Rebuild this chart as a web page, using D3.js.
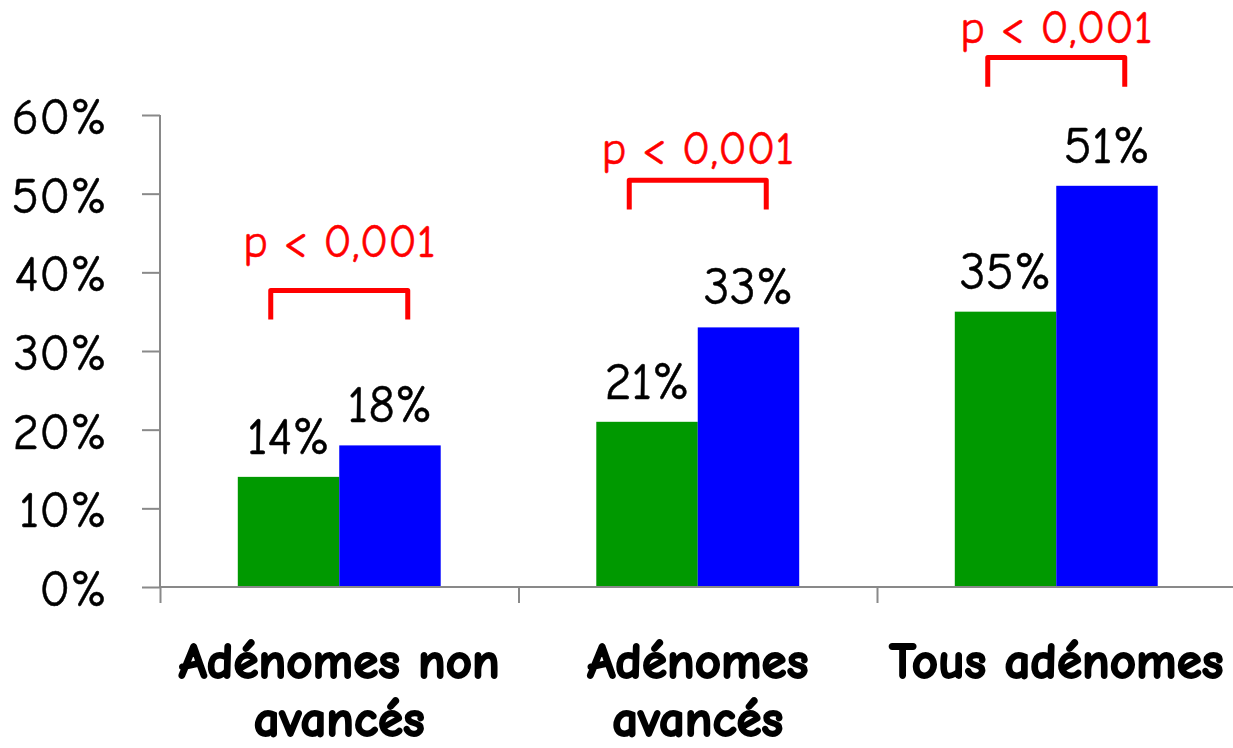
<!DOCTYPE html>
<html>
<head>
<meta charset="utf-8">
<script src="https://cdn.jsdelivr.net/npm/d3@7"></script>
<style>
  html, body { margin: 0; padding: 0; background: #ffffff; }
  svg { display: block; }
  text { font-family: "Comic Sans MS", "Comic Neue", "Open Sans", "Noto Sans", sans-serif; }
</style>
</head>
<body>
<svg id="chart" width="1233" height="748"></svg>
<script>
// Detection rates per group (percent)
const categories = ["Adénomes non avancés", "Adénomes avancés", "Tous adénomes"];
const categoryLines = [["Adénomes non", "avancés"], ["Adénomes", "avancés"], ["Tous adénomes"]];
const seriesNames = ["groupe 1", "groupe 2"];
const greenValues = [14, 21, 35];
const blueValues = [18, 33, 51];
const yTicks = [0, 10, 20, 30, 40, 50, 60];
const pLabels = ["p < 0,001", "p < 0,001", "p < 0,001"];

const svg = d3.select("#chart");

// Plot frame
const plotLeft = 160, plotBottom = 587, plotTop = 115;
const step = 358.5;
const plotRight = plotLeft + step * categories.length;

const y = d3.scaleLinear().domain([0, 60]).range([plotBottom, plotTop]);
const x = d3.scaleBand().domain(categories).range([plotLeft, plotRight])
  .paddingInner(0.434).paddingOuter(0.217);
const xSub = d3.scaleBand().domain(seriesNames).range([0, x.bandwidth()]);
const boundaries = d3.scaleLinear().domain([0, categories.length]).range([plotLeft, plotRight]);

const colors = { "groupe 1": "#009900", "groupe 2": "#0000ff" };
const axisColor = "#898989";

// Bars
const rows = categories.map((c, i) => ({ cat: c, values: [
  { s: seriesNames[0], v: greenValues[i] },
  { s: seriesNames[1], v: blueValues[i] }
]}));

const groups = svg.append("g").selectAll("g").data(rows).join("g")
  .attr("transform", d => `translate(${x(d.cat)},0)`);

groups.selectAll("rect").data(d => d.values).join("rect")
  .attr("x", d => xSub(d.s))
  .attr("width", xSub.bandwidth())
  .attr("y", d => y(d.v))
  .attr("height", d => y(0) - y(d.v))
  .attr("fill", d => colors[d.s]);

// Value labels above bars
groups.selectAll("text.val").data(d => d.values).join("text")
  .attr("class", "val")
  .attr("x", d => xSub(d.s) + xSub.bandwidth() / 2)
  .attr("y", d => y(d.v) - 23)
  .attr("text-anchor", "middle")
  .attr("font-size", 52)
  .attr("fill", "#000")
  .attr("stroke", "#000")
  .attr("stroke-width", 0.5)
  .text(d => d.v + "%");

// Y axis
const yAxis = d3.axisLeft(y).tickValues(yTicks).tickSize(18).tickPadding(35)
  .tickFormat(d => d + "%");
const gy = svg.append("g").attr("transform", `translate(${plotLeft},0)`).call(yAxis);
gy.attr("font-family", null).attr("font-size", null);
gy.select(".domain").attr("d", `M0,${plotTop}V${plotBottom}`).attr("stroke", axisColor).attr("stroke-width", 2);
gy.selectAll(".tick line").attr("stroke", axisColor).attr("stroke-width", 2);
gy.selectAll(".tick text").attr("font-size", 51).attr("fill", "#000").attr("dy", "0.36em")
  .attr("stroke", "#000").attr("stroke-width", 0.5);

// X axis: ticks at category boundaries
const xAxis = d3.axisBottom(boundaries).tickValues(d3.range(categories.length + 1))
  .tickSize(16).tickFormat("");
const gx = svg.append("g").attr("transform", `translate(0,${plotBottom})`).call(xAxis);
gx.select(".domain").attr("d", `M${plotLeft},0H${plotRight}`).attr("stroke", axisColor).attr("stroke-width", 2);
gx.selectAll(".tick line").attr("stroke", axisColor).attr("stroke-width", 2);

// Category labels
const catLabels = svg.append("g").selectAll("text").data(categories).join("text")
  .attr("x", d => x(d) + x.bandwidth() / 2)
  .attr("y", 678)
  .attr("text-anchor", "middle")
  .attr("font-size", 51)
  .attr("font-weight", "bold")
  .attr("fill", "#000")
  .attr("stroke", "#000")
  .attr("stroke-width", 1.8)
  .attr("stroke-linejoin", "round");
catLabels.selectAll("tspan").data((d, i) => categoryLines[i]).join("tspan")
  .attr("x", function () { return d3.select(this.parentNode).attr("x"); })
  .attr("dy", (d, i) => i === 0 ? 0 : 58)
  .text(d => d);

// Significance brackets (levels in percent units)
const bracketTop = [37.7, 51.7, 67.3];
const legDrop = 3.7;
const labelBase = [41.9, 53.8, 69.2];
const bracketHalf = 68.5;

const ann = svg.append("g").selectAll("g").data(categories).join("g");
ann.append("path")
  .attr("d", (d, i) => {
    const cx = x(d) + x.bandwidth() / 2;
    const yt = y(bracketTop[i]), yb = y(bracketTop[i] - legDrop);
    return `M${cx - bracketHalf},${yb}V${yt}H${cx + bracketHalf}V${yb}`;
  })
  .attr("fill", "none")
  .attr("stroke", "#ff0000")
  .attr("stroke-width", 5)
  .attr("stroke-linejoin", "round");
ann.append("text")
  .attr("x", d => x(d) + x.bandwidth() / 2)
  .attr("y", (d, i) => y(labelBase[i]))
  .attr("text-anchor", "middle")
  .attr("font-size", 47)
  .attr("fill", "#ff0000")
  .attr("stroke", "#ff0000")
  .attr("stroke-width", 0.5)
  .text((d, i) => pLabels[i]);
</script>
</body>
</html>
